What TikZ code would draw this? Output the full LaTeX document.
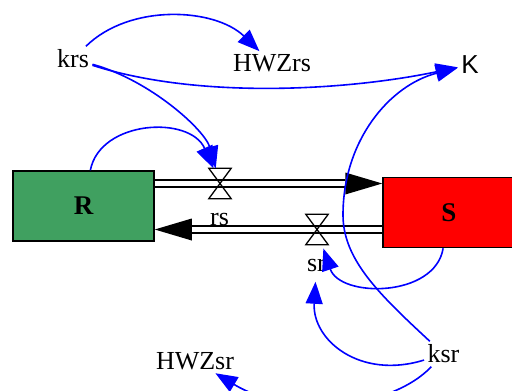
\documentclass[tikz,border=0pt]{standalone}
\usepackage{fontspec}
\setmainfont{Liberation Serif}
\newfontfamily\kfont{Liberation Sans}
\usetikzlibrary{arrows.meta,calc}
\definecolor{stockgreen}{RGB}{64,160,96}
\definecolor{stockred}{RGB}{255,0,0}
\definecolor{linkblue}{RGB}{0,0,255}

\begin{document}
\begin{tikzpicture}[x=1pt,y=-1pt,
  every node/.style={font=\fontsize{26}{30}\selectfont},
  stock/.style={draw,line width=1.5pt,minimum height=70pt,font=\fontsize{27}{30}\selectfont\bfseries},
  valve/.style={minimum width=22pt,minimum height=30pt,inner sep=0pt},
  pipe/.style={double,double distance=5.8pt,line width=1.3pt},
  link/.style={draw=linkblue,line width=1.6pt,-{Triangle[length=22pt,width=17pt]}}]
\useasboundingbox (0,0) rectangle (512,391);

% stocks
\node[stock,fill=stockgreen,minimum width=141pt] (R) at (83.5,206) {R};
\node[stock,fill=stockred,minimum width=132pt] (S) at (449,212.5) {S};

% valves and labels
\node[valve] (vrs) at (220,183.5) {};
\node[valve] (vsr) at (317,229.5) {};
\node (rs) at (219.5,219) {rs};
\node (sr) at (316.5,265) {sr};

% auxiliaries
\node (krs) at (73,59) {krs};
\node (HWZrs) at (272,63.4) {HWZrs};
\node[font=\fontsize{26}{30}\selectfont\kfont] (K) at (470,64.7) {K};
\node (HWZsr) at (195,361) {HWZsr};
\node (ksr) at (443.5,354) {ksr};

% flows
\draw[pipe] (R.east |- vrs.center) -- ($(S.west |- vrs.center)+(-37,0)$);
\fill (S.west |- vrs.center) -- ++(-37,-11) -- ++(0,22) -- cycle;
\draw[pipe] (S.west |- vsr.center) -- ($(R.east |- vsr.center)+(37,0)$);
\fill (R.east |- vsr.center) -- ++(37,-11) -- ++(0,22) -- cycle;
\draw[line width=1.3pt] (vrs.north west) -- (vrs.north east) -- (vrs.south west) -- (vrs.south east) -- cycle;
\draw[line width=1.3pt] (vsr.north west) -- (vsr.north east) -- (vsr.south west) -- (vsr.south east) -- cycle;

% links
\draw[link] (krs) .. controls (130,3) and (215,8) .. (HWZrs);
\draw[link] (krs) .. controls (200,100) and (350,90) .. (K);
\draw[link] (krs) .. controls (150,80) and (205,130) .. (vrs);
\draw[link] (R) .. controls (100,120) and (190,115) .. (vrs);
\draw[link] (ksr) .. controls (380,295) and (343,260) .. (343,215) .. controls (343,140) and (390,85) .. (K);
\draw[link,shorten >=4pt] (S) .. controls (435,298) and (340,298) .. (vsr);
\draw[link,shorten >=7pt] (ksr) .. controls (360,380) and (312,340) .. (sr);
\draw[link] (ksr) .. controls (390,410) and (290,418) .. (HWZsr);
\end{tikzpicture}
\end{document}
